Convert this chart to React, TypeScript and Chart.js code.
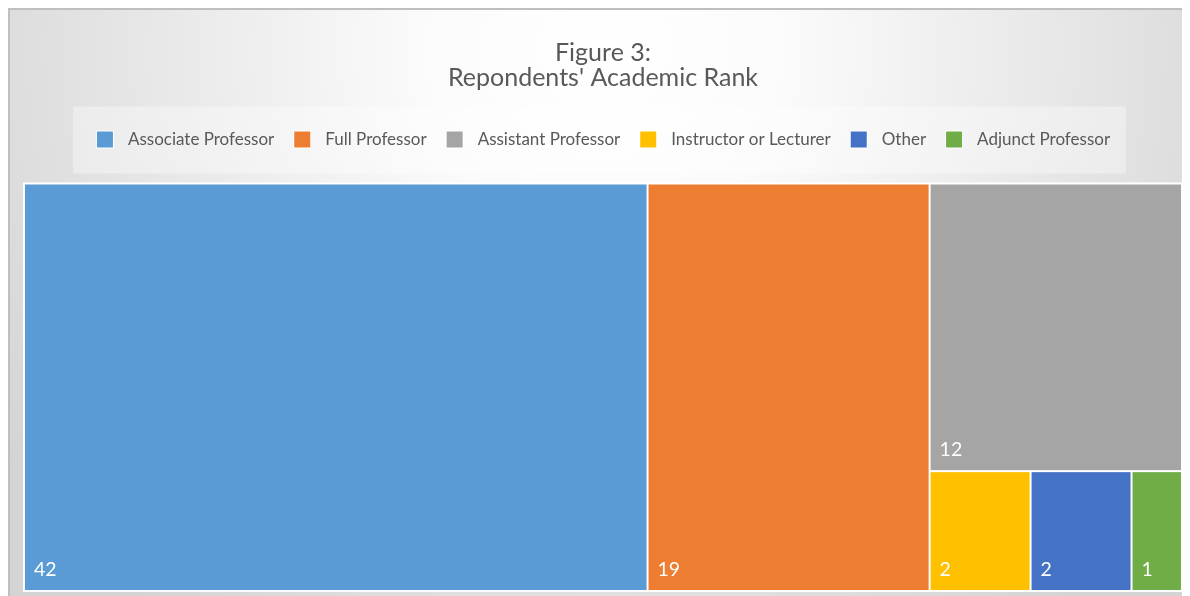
import React, { useEffect, useRef } from 'react';
import { Chart, registerables } from 'chart.js';

Chart.register(...registerables);

const categories = ['Associate Professor', 'Full Professor', 'Assistant Professor', 'Instructor or Lecturer', 'Other', 'Adjunct Professor'];
const counts = [42, 19, 12, 2, 2, 1];
const colors = ['#5B9BD5', '#ED7D31', '#A5A5A5', '#FFC000', '#4472C4', '#70AD47'];
const titleLines = ['Figure 3:', "Repondents' Academic Rank"];

const FONT = 'Lato, "Open Sans", sans-serif';
const TEXT_COLOR = '#595959';

type Rect = { x0: number; y0: number; x1: number; y1: number; i: number };

function squarify(values: number[], W: number, H: number): Rect[] {
  const total = values.reduce((a, b) => a + b, 0);
  const scale = (W * H) / total;
  const areas = values.map((v) => v * scale);
  const rects: Rect[] = [];
  let x = 0, y = 0, w = W, h = H;
  let i = 0;
  const worst = (row: number[], side: number) => {
    const s = row.reduce((a, b) => a + b, 0);
    const mx = Math.max(...row);
    const mn = Math.min(...row);
    return Math.max((side * side * mx) / (s * s), (s * s) / (side * side * mn));
  };
  while (i < areas.length) {
    const side = Math.min(w, h);
    let row = [areas[i]];
    let j = i + 1;
    while (j < areas.length) {
      const next = [...row, areas[j]];
      if (worst(next, side) <= worst(row, side)) { row = next; j++; } else break;
    }
    const s = row.reduce((a, b) => a + b, 0);
    if (w >= h) {
      const cw = s / h;
      let cy = y;
      row.forEach((a, k) => { const rh = a / cw; rects.push({ x0: x, y0: cy, x1: x + cw, y1: cy + rh, i: i + k }); cy += rh; });
      x += cw; w -= cw;
    } else {
      const rh = s / w;
      let cx = x;
      row.forEach((a, k) => { const rw = a / rh; rects.push({ x0: cx, y0: y, x1: cx + rw, y1: y + rh, i: i + k }); cx += rw; });
      y += rh; h -= rh;
    }
    i = j;
  }
  return rects;
}

const treemapPlugin = {
  id: 'treemapPlugin',
  beforeDraw(chart: any) {
    const { ctx, width, height } = chart;
    ctx.save();
    const g = ctx.createRadialGradient(width / 2, 40, 0, width / 2, 40, 720);
    g.addColorStop(0, '#ffffff');
    g.addColorStop(0.25, '#fbfbfb');
    g.addColorStop(1, '#d4d4d4');
    ctx.fillStyle = g;
    ctx.fillRect(0, 0, width, height);
    ctx.fillStyle = '#bfbfbf';
    ctx.fillRect(0, 0, width, 2);
    ctx.fillRect(0, 0, 2, height);
    const hb = chart.legend && chart.legend.legendHitBoxes;
    if (hb && hb.length) {
      const first = hb[0];
      const last = hb[hb.length - 1];
      const cy = first.top + first.height / 2;
      ctx.fillStyle = 'rgba(255,255,255,0.35)';
      ctx.fillRect(first.left - 23, cy - 33, last.left + last.width + 16 - (first.left - 23), 67);
    }
    ctx.restore();
  },
  afterDatasetsDraw(chart: any) {
    const { ctx, chartArea } = chart;
    const xs = chart.scales.x;
    const ys = chart.scales.y;
    const W = chartArea.right - chartArea.left;
    const H = chartArea.bottom - chartArea.top;
    const rects = squarify(counts, W, H);
    ctx.save();
    const L = xs.getPixelForValue(0), R = xs.getPixelForValue(1);
    const T = ys.getPixelForValue(0), B = ys.getPixelForValue(1);
    ctx.fillStyle = '#ffffff';
    ctx.fillRect(L - 1, T - 1, R - L + 2, B - T + 2);
    rects.forEach((r) => {
      const px0 = xs.getPixelForValue(r.x0 / W);
      const px1 = xs.getPixelForValue(r.x1 / W);
      const py0 = ys.getPixelForValue(r.y0 / H);
      const py1 = ys.getPixelForValue(r.y1 / H);
      ctx.fillStyle = colors[r.i];
      ctx.fillRect(px0 + 1, py0 + 1, px1 - px0 - 2, py1 - py0 - 2);
      ctx.fillStyle = '#ffffff';
      ctx.font = `19.5px ${FONT}`;
      ctx.textAlign = 'left';
      ctx.textBaseline = 'alphabetic';
      ctx.fillText(String(counts[r.i]), px0 + 10, py1 - 15);
    });
    ctx.restore();
  },
  afterDraw(chart: any) {
    const { ctx } = chart;
    const hb = chart.legend && chart.legend.legendHitBoxes;
    if (!hb) return;
    ctx.save();
    hb.forEach((b: any, i: number) => {
      const cy = b.top + b.height / 2;
      ctx.fillStyle = '#ffffff';
      ctx.fillRect(b.left, cy - 9, 18, 18);
      ctx.fillStyle = colors[i];
      ctx.fillRect(b.left + 1, cy - 8, 16, 16);
    });
    ctx.restore();
  },
};

export default function App() {
  const ref = useRef<HTMLCanvasElement | null>(null);
  useEffect(() => {
    document.documentElement.style.overflow = 'hidden';
    document.body.style.overflow = 'hidden';
    const canvas = ref.current;
    if (!canvas) return;
    const chart = new Chart(canvas, {
      type: 'scatter',
      data: {
        datasets: categories.map((c, i) => ({ label: c, data: [] as any[], backgroundColor: colors[i] })),
      },
      options: {
        animation: false,
        responsive: false,
        devicePixelRatio: 1,
        layout: { padding: { top: 0, left: 16, right: 18, bottom: 17 } },
        scales: {
          x: { type: 'linear', min: 0, max: 1, display: false },
          y: { type: 'linear', min: 0, max: 1, reverse: true, display: false },
        },
        plugins: {
          title: {
            display: true,
            text: titleLines,
            color: TEXT_COLOR,
            font: { family: FONT, size: 25, weight: 'normal', lineHeight: 24.5 / 25 },
            padding: { top: 33, bottom: -3.5 },
          },
          legend: {
            display: true,
            position: 'top',
            labels: {
              boxWidth: 23.5,
              boxHeight: 68,
              padding: 19,
              color: TEXT_COLOR,
              font: { family: FONT, size: 17 },
              generateLabels: () =>
                categories.map((c, i) => ({
                  text: c,
                  fillStyle: 'rgba(0,0,0,0)',
                  strokeStyle: 'rgba(0,0,0,0)',
                  lineWidth: 0,
                  hidden: false,
                  datasetIndex: i,
                  fontColor: TEXT_COLOR,
                })),
            },
          },
          tooltip: { enabled: false },
        },
      } as any,
      plugins: [treemapPlugin],
    });
    return () => chart.destroy();
  }, []);
  return (
    <div style={{ width: 1192, height: 600 }}>
      <canvas ref={ref} width={1192} height={600} style={{ display: 'block' }} />
    </div>
  );
}
